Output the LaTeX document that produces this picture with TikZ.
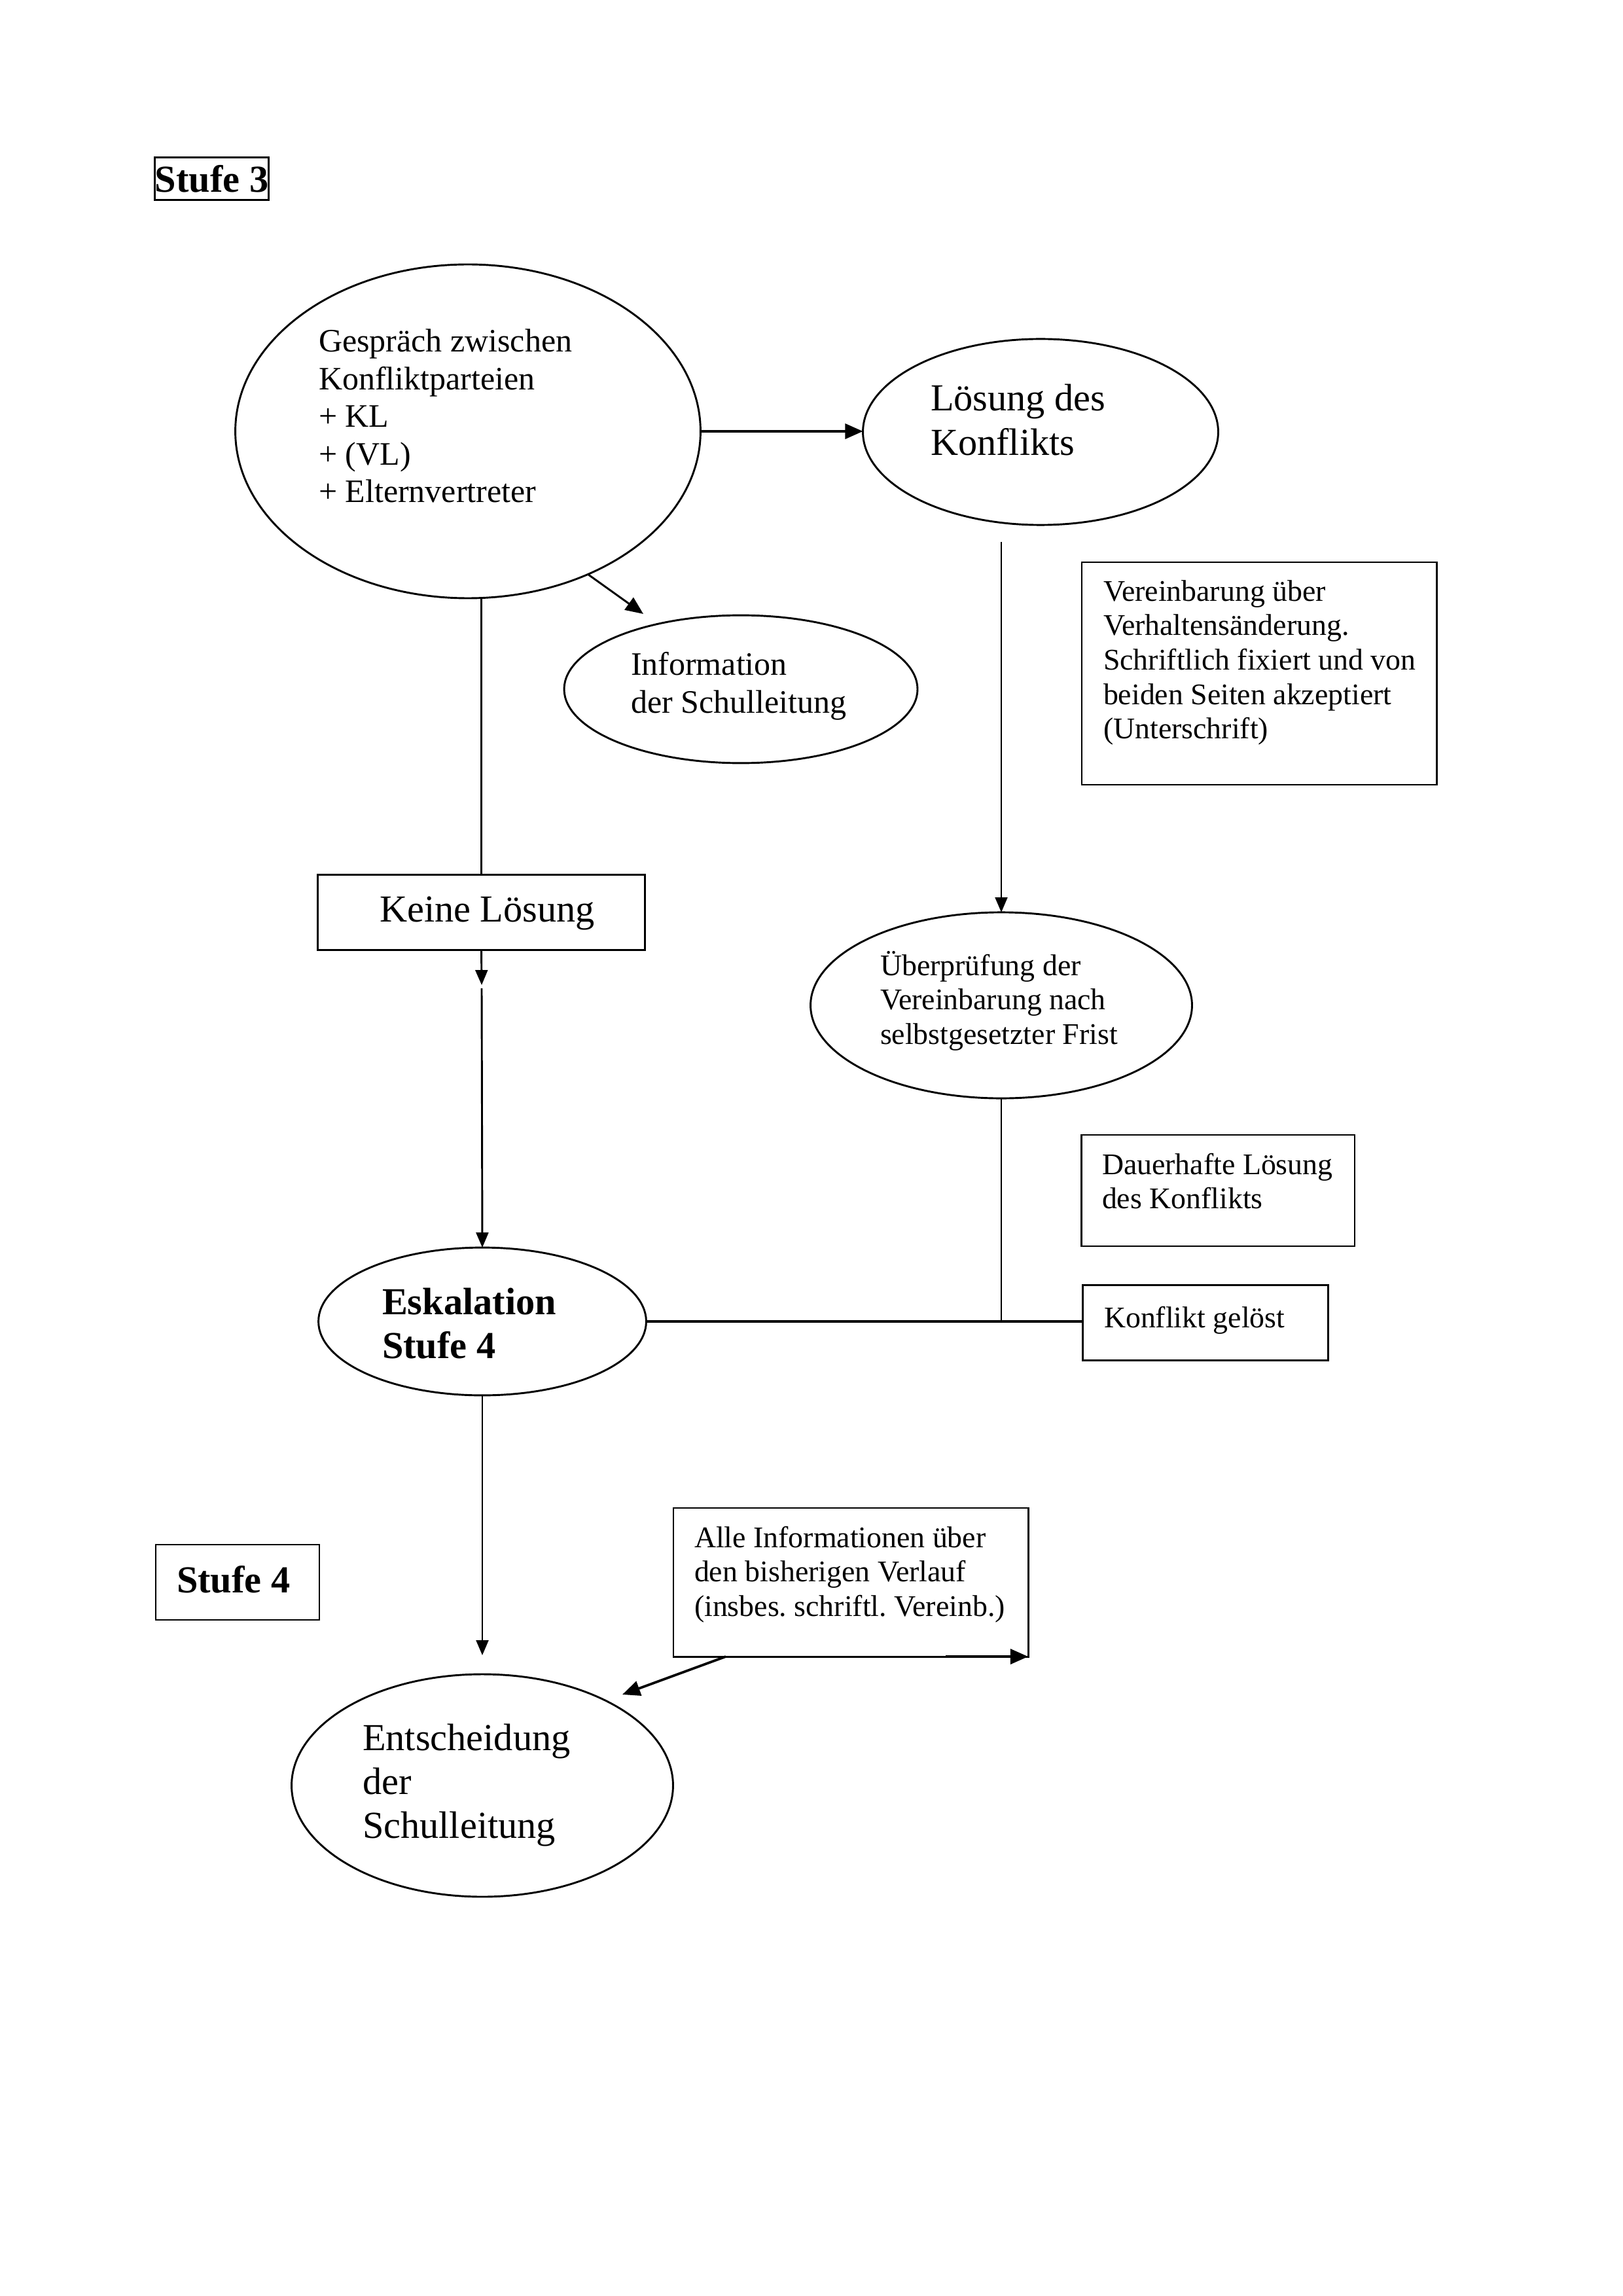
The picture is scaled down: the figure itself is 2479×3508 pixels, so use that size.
\documentclass[tikz,border=0pt]{standalone}
\usepackage{fontspec}
\setmainfont{Liberation Serif}
\usetikzlibrary{shapes.geometric,arrows.meta}
\newcommand{\mylines}[1]{\begin{tabular}[t]{@{}l@{}}#1\end{tabular}}
\frenchspacing
\begin{document}
\begin{tikzpicture}[x=0.24pt,y=-0.24pt,line width=0.7pt,
  ell/.style={draw,ellipse,inner sep=0pt,outer sep=0pt},
  box/.style={draw,rectangle,inner sep=0pt,outer sep=0pt},
  txt/.style={anchor=base west,inner sep=0pt,outer sep=0pt},
  fa/.style={font=\fontsize{11}{12.65}\selectfont},
  fb/.style={font=\fontsize{12}{13.8}\selectfont},
  fc/.style={font=\fontsize{14}{16.1}\selectfont},
  fcb/.style={font=\fontsize{14}{16.1}\selectfont\bfseries},
  arr/.style={-{Triangle[length=5.5pt,width=4.5pt]}},
  arrb/.style={-{Triangle[length=6.5pt,width=5.5pt]}}]
\useasboundingbox (0,0) rectangle (2479,3508);

% boxes
\node[box,fcb,minimum width=41pt,minimum height=15.8pt] (s3) at (323.5,273) {Stufe 3};
\node[box,minimum width=120.2pt,minimum height=27.4pt] (keine) at (735.5,1394) {};
\node[box,minimum width=130.1pt,minimum height=81.6pt] (verein) at (1924,1029) {};
\node[box,minimum width=100.3pt,minimum height=40.8pt] (dauer) at (1861,1819) {};
\node[box,minimum width=90.2pt,minimum height=27.4pt] (konf) at (1842,2021) {};
\node[box,minimum width=60pt,minimum height=27.6pt] (s4) at (363,2417.5) {};
\node[box,minimum width=130.1pt,minimum height=54.5pt] (alle) at (1300,2417.5) {};

% ellipses
\node[ell,minimum width=170.6pt,minimum height=122.4pt] (gesp) at (715,659) {};
\node[ell,minimum width=130.3pt,minimum height=68.2pt] (loes) at (1590,660) {};
\node[ell,minimum width=129.6pt,minimum height=54.2pt] (info) at (1132,1053) {};
\node[ell,minimum width=139.9pt,minimum height=68.2pt] (uebe) at (1530,1536) {};
\node[ell,minimum width=120.2pt,minimum height=54.2pt] (esk) at (737,2019) {};
\node[ell,minimum width=139.9pt,minimum height=81.6pt] (ent) at (737,2728) {};

% texts
\node[txt,fc] (tkeine) at (580,1408) {Keine Lösung};
\node[txt,fcb] (ts4) at (270,2433) {Stufe 4};
\node[txt,fb] (tgesp) at (487,538) {\mylines{Gespräch zwischen\\Konfliktparteien\\+ KL\\+ (VL)\\+ Elternvertreter}};
\node[txt,fc] (tloes) at (1422,628) {\mylines{Lösung des\\Konflikts}};
\node[txt,fb] (tinfo) at (964,1032) {\mylines{Information\\der Schulleitung}};
\node[txt,fa] (tverein) at (1686,918) {\mylines{Vereinbarung über\\Verhaltensänderung.\\Schriftlich fixiert und von\\beiden Seiten akzeptiert\\(Unterschrift)}};
\node[txt,fa] (tuebe) at (1345,1490) {\mylines{Überprüfung der\\Vereinbarung nach\\selbstgesetzter Frist}};
\node[txt,fa] (tdauer) at (1684,1794) {\mylines{Dauerhafte Lösung\\des Konflikts}};
\node[txt,fa] (tkonf) at (1687,2028) {Konflikt gelöst};
\node[txt,fcb] (tesk) at (584,2008) {\mylines{Eskalation\\Stufe 4}};
\node[txt,fa] (talle) at (1061,2364) {\mylines{Alle Informationen über\\den bisherigen Verlauf\\(insbes. schriftl. Vereinb.)}};
\node[txt,fc] (tent) at (554,2674) {\mylines{Entscheidung\\der\\Schulleitung}};

% coordinates
\coordinate (iarr) at (983,938);
\coordinate (k1) at (736,1505);
\coordinate (k2) at (736,1510);
\coordinate (l1) at (1530,828);
\coordinate (e1) at (737,2529);
\coordinate (a1) at (1109,2531);
\coordinate (a2) at (951,2589);
\coordinate (a3) at (1445,2531);

% connectors
\draw[arrb,line width=0.9pt] (gesp.east) -- (gesp.east -| loes.west);
\draw[arrb] (gesp.-50) -- (iarr);
\draw (keine.north |- gesp.south) -- (keine.north);
\draw[arr] (keine.south) -- (k1);
\draw[arr] (k2) -- (esk.north);
\draw[arr] (l1) -- (uebe.north);
\draw (uebe.south) -- (uebe.south |- esk.east);
\draw[line width=0.9pt] (esk.east) -- (esk.east -| konf.west);
\draw[arr] (esk.south) -- (e1);
\draw[arrb,line width=0.9pt] (a1) -- (a2);
\draw[arrb,line width=0.9pt] (a3) -- (alle.south east);
\end{tikzpicture}
\end{document}
